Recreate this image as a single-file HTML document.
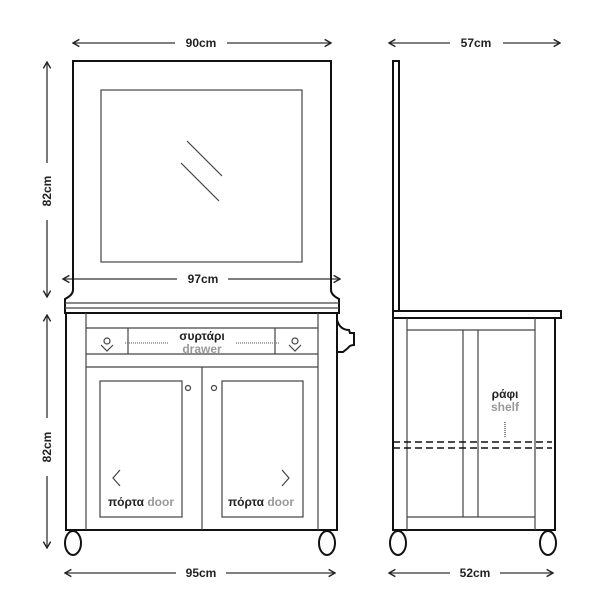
<!DOCTYPE html>
<html><head><style>body{margin:0;background:#fff}svg{display:block}text{font-family:"Liberation Sans",sans-serif;font-weight:bold}</style></head><body>
<svg width="600" height="600" viewBox="0 0 600 600" xmlns="http://www.w3.org/2000/svg">
<defs><marker id="a" viewBox="0 0 10 10" refX="9" refY="5" markerWidth="7" markerHeight="7" orient="auto-start-reverse"><path d="M2 1L9 5L2 9" fill="none" stroke="#222" stroke-width="1.5"/></marker></defs>
<g stroke="#333" stroke-width="1.3" fill="none">
<line x1="73" y1="43" x2="175" y2="43" marker-start="url(#a)"/><line x1="227" y1="43" x2="331" y2="43" marker-end="url(#a)"/>
<line x1="389" y1="43" x2="450" y2="43" marker-start="url(#a)"/><line x1="503" y1="43" x2="560" y2="43" marker-end="url(#a)"/>
<line x1="63" y1="279" x2="177" y2="279" marker-start="url(#a)"/><line x1="228" y1="279" x2="340" y2="279" marker-end="url(#a)"/>
<line x1="65" y1="573" x2="176" y2="573" marker-start="url(#a)"/><line x1="226" y1="573" x2="335" y2="573" marker-end="url(#a)"/>
<line x1="389" y1="573" x2="450" y2="573" marker-start="url(#a)"/><line x1="500" y1="573" x2="553" y2="573" marker-end="url(#a)"/>
<line x1="47" y1="62" x2="47" y2="163" marker-start="url(#a)"/><line x1="47" y1="220" x2="47" y2="297" marker-end="url(#a)"/>
<line x1="47" y1="315" x2="47" y2="418" marker-start="url(#a)"/><line x1="47" y1="476" x2="47" y2="548" marker-end="url(#a)"/>
</g>
<g fill="#222" font-size="12" text-anchor="middle">
<text x="201" y="47">90cm</text><text x="476" y="47">57cm</text><text x="203" y="283">97cm</text>
<text x="201" y="577">95cm</text><text x="475" y="577">52cm</text>
<text transform="translate(51,191) rotate(-90)">82cm</text>
<text transform="translate(51,447) rotate(-90)">82cm</text>
</g>
<!-- front -->
<g fill="none" stroke="#111" stroke-width="2">
<path d="M73 290V61H331V290q0 5 8 9v14H65V299q8-4 8-9"/>
<path d="M66 313V530H337V313"/>
<path d="M337 320q3 10 12 10l1 3h4v12q-4 0-6 3l-5 4h-6"/>
<ellipse cx="73" cy="543" rx="8" ry="12"/><ellipse cx="327" cy="543" rx="8" ry="12"/>
</g>
<g fill="none" stroke="#444" stroke-width="1.2">
<rect x="101" y="90" width="201" height="172"/>
<line x1="187" y1="141" x2="222" y2="176"/><line x1="181" y1="163" x2="219" y2="201"/>
<line x1="65" y1="303" x2="339" y2="303"/><line x1="65" y1="308" x2="339" y2="308"/>
<line x1="86" y1="313" x2="86" y2="530"/><line x1="318" y1="313" x2="318" y2="530"/>
<line x1="86" y1="328" x2="318" y2="328"/><line x1="86" y1="354" x2="318" y2="354"/><line x1="86" y1="367" x2="318" y2="367"/>
<line x1="128" y1="328" x2="128" y2="354"/><line x1="275" y1="328" x2="275" y2="354"/>
<line x1="202" y1="367" x2="202" y2="530"/>
<rect x="100" y="381" width="82" height="136"/><rect x="222" y="381" width="81" height="136"/>
<circle cx="188" cy="388" r="2.5"/><circle cx="214" cy="388" r="2.5"/>
<circle cx="107" cy="341" r="3"/><path d="M101 345l6 6l6-6"/>
<circle cx="295" cy="341" r="3"/><path d="M289 345l6 6l6-6"/>
<path d="M120 470l-7 8l7 8M282 470l7 8l-7 8"/>
<line x1="125" y1="343" x2="168" y2="343" stroke-dasharray="1 1" stroke="#777"/>
<line x1="236" y1="343" x2="280" y2="343" stroke-dasharray="1 1" stroke="#777"/>
</g>
<g font-size="12" text-anchor="middle">
<text x="202" y="340" fill="#222">συρτάρι</text><text x="202" y="353" fill="#999">drawer</text>
<text x="141" y="506"><tspan fill="#222">πόρτα</tspan> <tspan fill="#999">door</tspan></text>
<text x="261" y="506"><tspan fill="#222">πόρτα</tspan> <tspan fill="#999">door</tspan></text>
<text x="505" y="398" fill="#222">ράφι</text><text x="505" y="411" fill="#999">shelf</text>
</g>
<!-- side -->
<g fill="none" stroke="#111" stroke-width="2">
<rect x="393" y="61" width="6" height="250"/>
<path d="M393 311H561V318H393Z"/>
<path d="M393 318V530H555V318"/>
<ellipse cx="398" cy="543" rx="8" ry="12"/><ellipse cx="548" cy="543" rx="8" ry="12"/>
</g>
<g fill="none" stroke="#444" stroke-width="1.2">
<line x1="407" y1="318" x2="407" y2="530"/><line x1="535" y1="318" x2="535" y2="530"/>
<line x1="407" y1="330" x2="535" y2="330"/><line x1="407" y1="517" x2="535" y2="517"/>
<line x1="463" y1="330" x2="463" y2="517"/><line x1="478" y1="330" x2="478" y2="517"/>
<line x1="505" y1="422" x2="505" y2="438" stroke-dasharray="1 1"/>
</g>
<g stroke="#111" stroke-width="1.5" stroke-dasharray="7 4">
<line x1="393" y1="442" x2="552" y2="442"/><line x1="393" y1="448" x2="552" y2="448"/>
</g>
</svg>
</body></html>
